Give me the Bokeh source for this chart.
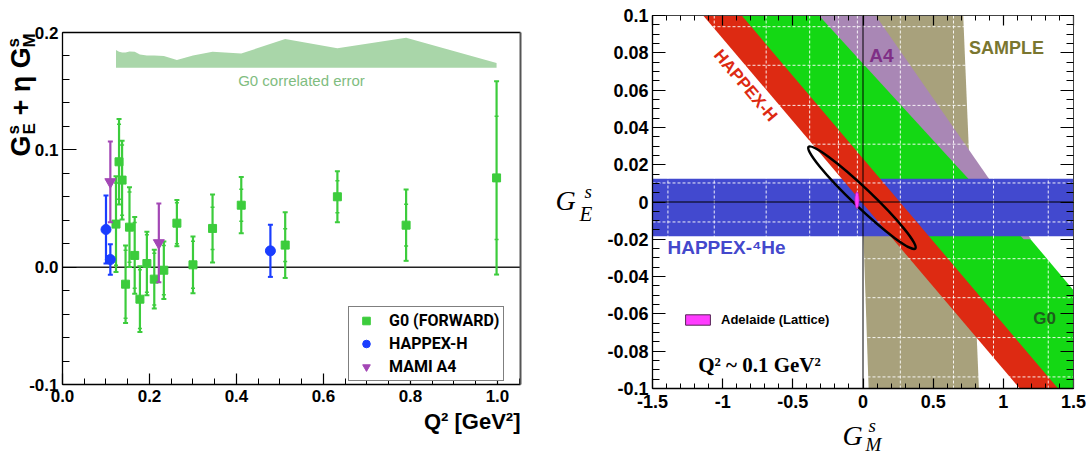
import numpy as np
from bokeh.plotting import figure
from bokeh.layouts import row
from bokeh.models import (Range1d, Label, Legend, LegendItem, LinearAxis,
                          FixedTicker, CustomJSTickFormatter)
from bokeh.embed import file_html
from bokeh.resources import INLINE

# ---------------- Left panel data: G_E^s + eta G_M^s vs Q^2 ----------------
g0_q2 = [0.123, 0.130, 0.137, 0.145, 0.154, 0.166, 0.178, 0.194, 0.211, 0.233,
         0.263, 0.300, 0.345, 0.411, 0.512, 0.632, 0.790, 0.998]
g0_val = [0.0367, 0.0898, 0.0742, -0.0145, 0.0341, 0.0100, -0.0273, 0.0031, -0.0102, -0.0026,
          0.0375, 0.0020, 0.0330, 0.0528, 0.0188, 0.0600, 0.0358, 0.0761]
g0_tot_err = [0.0408, 0.0364, 0.0335, 0.0330, 0.0340, 0.0327, 0.0280, 0.0270, 0.0250, 0.0245,
              0.0197, 0.0242, 0.0290, 0.0240, 0.0280, 0.0217, 0.0304, 0.0824]
g0_stat_err = [0.0350, 0.0320, 0.0300, 0.0290, 0.0300, 0.0280, 0.0250, 0.0245, 0.0220, 0.0210,
               0.0175, 0.0200, 0.0180, 0.0137, 0.0140, 0.0137, 0.0178, 0.0526]
g0_corr_base = 0.170
g0_corr_err = [0.0150, 0.0135, 0.0130, 0.0130, 0.0138, 0.0135, 0.0112, 0.0105, 0.0105, 0.0100,
               0.0065, 0.0105, 0.0135, 0.0120, 0.0245, 0.0165, 0.0255, 0.0040]

happex_q2 = [0.100, 0.110, 0.478]
happex_val = [0.0321, 0.0065, 0.0139]
happex_err = [0.0290, 0.0130, 0.0222]

a4_q2 = [0.110, 0.2215]
a4_val = [0.0727, 0.0207]
a4_err = [0.0345, 0.0335]

left_xticks = [0.0, 0.2, 0.4, 0.6, 0.8, 1.0]
left_yticks = [-0.1, 0.0, 0.1, 0.2]

# ---------------- Right panel data: G_E^s vs G_M^s at Q^2 ~ 0.1 ----------------
sample_gm = [-0.050, 0.714, 0.826, 0.040]
sample_ge = [0.100, 0.100, -0.100, -0.100]
a4band_gm = [-0.314, 0.090, 1.197, 1.145]
a4band_ge = [0.100, 0.100, -0.020, -0.020]
g0band_gm = [-1.000, -0.149, 1.500, 1.500, 1.250]
g0band_ge = [0.100, 0.100, -0.0473, -0.100, -0.100]
hhband_gm = [-1.139, -0.864, 1.390, 1.117]
hhband_ge = [0.100, 0.100, -0.100, -0.100]
he4_ge_low = -0.0184
he4_ge_high = 0.0125
fit_gm = [-0.0075]
fit_ge = [0.0023]
fit_w = 1.05
fit_h = 0.0100
fit_angle = -0.761
lattice_gm = [-0.043]
lattice_ge = [0.001]
lattice_w = 0.030
lattice_h = 0.0090

right_xticks = [-1.5, -1.0, -0.5, 0.0, 0.5, 1.0, 1.5]
right_yticks = [-0.1, -0.08, -0.06, -0.04, -0.02, 0.0, 0.02, 0.04, 0.06, 0.08, 0.1]
grid_gm = [-1.39, -1.06, -0.69, -0.38, -0.175, -0.04, 0.266, 0.645, 0.93, 1.32]
grid_ge = [-0.0938, -0.0727, -0.0513, -0.0304, -0.0107, 0.0102, 0.031, 0.0518, 0.0733, 0.094]

SANS = "'Liberation Sans', Arial, sans-serif"
ROBOTO = "Roboto, 'Liberation Sans', sans-serif"
SERIF = "'Liberation Serif', 'Times New Roman', serif"

# ---------------- geometry (canvas pixels of the drawn boxes) ----------------
W, H = 1086, 454
P1W = 550
P2W = W - P1W
LX0, LX1, LY0, LY1 = 0.0, 1.053, -0.1, 0.2
LB_L, LB_R, LB_T, LB_B = 62, 520, 32, 384
RX0, RX1, RY0, RY1 = -1.5, 1.5, -0.1, 0.1
RB_L, RB_R, RB_T, RB_B = 652, 1073, 15, 388

lsx = (LX1 - LX0) / (LB_R - LB_L)
lsy = (LY1 - LY0) / (LB_B - LB_T)
rsx = (RX1 - RX0) / (RB_R - RB_L)
rsy = (RY1 - RY0) / (RB_B - RB_T)


def lpos(px, py):
    return (LX0 + (px - LB_L) * lsx, LY1 - (py - LB_T) * lsy)


def rpos(px, py):
    return (RX0 + (px - RB_L) * rsx, RY1 - (py - RB_T) * rsy)


def style_axis(ax, ticks, minor, fmt, tick_in, minor_in, size, standoff,
               loc, bounds, font=SANS, line_color="black", line_width=1.3):
    ax.fixed_location = loc
    ax.bounds = bounds
    ax.ticker = FixedTicker(ticks=ticks, minor_ticks=minor)
    ax.formatter = CustomJSTickFormatter(code=fmt)
    ax.major_tick_in = tick_in
    ax.major_tick_out = 0
    ax.minor_tick_in = minor_in
    ax.minor_tick_out = 0
    ax.axis_line_color = line_color
    ax.axis_line_width = line_width
    ax.major_tick_line_color = "black"
    ax.major_tick_line_width = 1.2
    ax.minor_tick_line_color = "black"
    ax.minor_tick_line_width = 1
    ax.major_label_text_font = font
    ax.major_label_text_font_size = size
    ax.major_label_text_font_style = "bold"
    ax.major_label_text_color = "black"
    ax.major_label_standoff = standoff


def add_label(p, xy, text, size, color="black", font=SANS, style="bold",
              align="left", baseline="middle", angle=0.0):
    p.add_layout(Label(x=xy[0], y=xy[1], text=text, text_font=font, text_font_size=size,
                       text_font_style=style, text_color=color, text_align=align,
                       text_baseline=baseline, angle=angle))


# =============================== LEFT PANEL ===============================
p1 = figure(width=P1W, height=H,
            x_range=Range1d(LX0 - LB_L * lsx, LX1 + (P1W - LB_R) * lsx),
            y_range=Range1d(LY0 - (H - LB_B) * lsy, LY1 + LB_T * lsy),
            output_backend="svg", toolbar_location=None, title=None, min_border=0)
p1.xgrid.visible = False
p1.ygrid.visible = False
p1.outline_line_color = None
p1.border_fill_color = "white"
p1.background_fill_color = "white"

style_axis(p1.xaxis[0], left_xticks, [round(v, 3) for v in np.arange(0, 1.0501, 0.05)],
           "return tick.toFixed(1);", 11, 6, "17px", 5, LY0, (LX0, LX1))
style_axis(p1.yaxis[0], left_yticks, [round(v, 3) for v in np.arange(-0.1, 0.2001, 0.02)],
           "return tick.toFixed(1);", 14, 7, "17px", 4, LX0, (LY0, LY1))
l_right = LinearAxis()
style_axis(l_right, [], [], "return '';", 0, 0, "1px", 0, LX1, (LY0, LY1),
           line_color="#555555", line_width=2)
p1.add_layout(l_right, "right")
l_top = LinearAxis()
style_axis(l_top, [], [], "return '';", 0, 0, "1px", 0, LY1, (LX0, LX1))
p1.add_layout(l_top, "above")

# correlated error band
p1.varea(x=g0_q2, y1=[g0_corr_base] * len(g0_q2),
         y2=[g0_corr_base + e for e in g0_corr_err], fill_color="#a9d6a9")
add_label(p1, lpos(301, 80), "G0 correlated error", "15px", color="#7fbd7f",
          style="normal", align="center")

# zero line
p1.segment(x0=[LX0], y0=[0.0], x1=[LX1], y1=[0.0], line_color="#222222", line_width=1.5)

g0v = np.array(g0_val)
g0t = np.array(g0_tot_err)
g0s = np.array(g0_stat_err)
GREEN = "#3ccc3c"
p1.segment(x0=g0_q2, y0=g0v - g0t, x1=g0_q2, y1=g0v + g0t, line_color=GREEN, line_width=2.2)
p1.scatter(x=g0_q2 * 2, y=list(g0v - g0t) + list(g0v + g0t), marker="dash", size=5,
           line_color=GREEN, line_width=2)
p1.scatter(x=g0_q2 * 2, y=list(g0v - g0s) + list(g0v + g0s), marker="dash", size=4,
           line_color=GREEN, line_width=1.5)
g0_r = p1.scatter(x=g0_q2, y=g0_val, marker="square", size=8, fill_color=GREEN,
                  line_color=GREEN)

BLUE = "#1a3dff"
hv = np.array(happex_val)
he = np.array(happex_err)
p1.segment(x0=happex_q2, y0=hv - he, x1=happex_q2, y1=hv + he, line_color=BLUE, line_width=2.2)
p1.scatter(x=happex_q2 * 2, y=list(hv - he) + list(hv + he), marker="dash", size=5,
           line_color=BLUE, line_width=2)
hh_r = p1.scatter(x=happex_q2, y=happex_val, marker="circle", size=10, fill_color=BLUE,
                  line_color=BLUE)

MAG = "#a347b5"
av = np.array(a4_val)
ae = np.array(a4_err)
p1.segment(x0=a4_q2, y0=av - ae, x1=a4_q2, y1=av + ae, line_color=MAG, line_width=2.2)
p1.scatter(x=a4_q2 * 2, y=list(av - ae) + list(av + ae), marker="dash", size=5,
           line_color=MAG, line_width=2)
a4_r = p1.scatter(x=a4_q2, y=a4_val, marker="inverted_triangle", size=11, fill_color=MAG,
                  line_color=MAG)

leg1 = Legend(items=[LegendItem(label="G0 (FORWARD)", renderers=[g0_r]),
                     LegendItem(label="HAPPEX-H", renderers=[hh_r]),
                     LegendItem(label="MAMI A4", renderers=[a4_r])],
              location=(348, H - 381), orientation="vertical",
              border_line_color="black", border_line_width=1.5,
              background_fill_color="white", background_fill_alpha=1.0,
              label_text_font=ROBOTO, label_text_font_style="bold",
              label_text_font_size="16px", label_text_color="black",
              glyph_width=26, glyph_height=19, label_height=19, label_standoff=10,
              spacing=4, padding=4, margin=0)
p1.add_layout(leg1)

# y axis label: G_E^s + eta G_M^s (rotated, reads upward)
ROT = np.pi / 2
add_label(p1, lpos(20, 156), "G", "27px", angle=ROT)
add_label(p1, lpos(29, 134), "E", "17px", angle=ROT)
add_label(p1, lpos(13, 134), "s", "17px", angle=ROT)
add_label(p1, lpos(20, 115), "+ \u03b7 G", "27px", angle=ROT)
add_label(p1, lpos(29, 47), "M", "17px", angle=ROT)
add_label(p1, lpos(13, 47), "s", "17px", angle=ROT)
# x axis label
add_label(p1, lpos(520, 421), "Q\u00b2 [GeV\u00b2]", "22px", align="right")

# =============================== RIGHT PANEL ===============================
p2 = figure(width=P2W, height=H,
            x_range=Range1d(RX0 - (RB_L - P1W) * rsx, RX1 + (W - RB_R) * rsx),
            y_range=Range1d(RY0 - (H - RB_B) * rsy, RY1 + RB_T * rsy),
            output_backend="svg", toolbar_location=None, title=None, min_border=0)
p2.xgrid.visible = False
p2.ygrid.visible = False
p2.outline_line_color = None
p2.border_fill_color = "white"
p2.background_fill_color = "white"

rx_minor = [round(v, 3) for v in np.arange(-1.5, 1.5001, 0.1)]
ry_minor = [round(v, 4) for v in np.arange(-0.1, 0.1001, 0.005)]
fmt = "return (Math.round(tick*1000)/1000).toString();"
style_axis(p2.xaxis[0], right_xticks, rx_minor, fmt, 10, 5, "18px", 6, RY0, (RX0, RX1))
style_axis(p2.yaxis[0], right_yticks, ry_minor, fmt, 13, 7, "18px", 4, RX0, (RY0, RY1))
r_right = LinearAxis()
style_axis(r_right, right_yticks, ry_minor, "return '';", 13, 7, "1px", 0, RX1, (RY0, RY1),
           line_color="#444444", line_width=1)
p2.add_layout(r_right, "right")
r_top = LinearAxis()
style_axis(r_top, right_xticks, rx_minor, "return '';", 10, 5, "1px", 0, RY1, (RX0, RX1),
           line_color="#444444", line_width=1)
p2.add_layout(r_top, "above")

TAN = "#a8a17c"
PURP = "#a987b5"
BGREEN = "#14d814"
RED = "#dd2a12"
BBLUE = "#4249cf"
p2.patch(sample_gm, sample_ge, fill_color=TAN, line_color=None)
p2.patch(g0band_gm, g0band_ge, fill_color=BGREEN, line_color=None)
p2.patch(a4band_gm, a4band_ge, fill_color=PURP, line_color=None)
p2.quad(left=[RX0], right=[RX1], bottom=[he4_ge_low], top=[he4_ge_high],
        fill_color=BBLUE, line_color=None)
p2.patch(hhband_gm, hhband_ge, fill_color=RED, line_color=None)

# dashed white grid (visible only on the coloured bands)
p2.segment(x0=grid_gm, y0=[RY0] * len(grid_gm), x1=grid_gm, y1=[RY1] * len(grid_gm),
           line_color="white", line_dash="3 2", line_width=1, line_alpha=0.9)
p2.segment(x0=[RX0] * len(grid_ge), y0=grid_ge, x1=[RX1] * len(grid_ge), y1=grid_ge,
           line_color="white", line_dash="3 2", line_width=1, line_alpha=0.9)
# zero lines
p2.segment(x0=[RX0, 0.0], y0=[0.0, RY0], x1=[RX1, 0.0], y1=[0.0, RY1],
           line_color="black", line_width=1)

p2.ellipse(x=fit_gm, y=fit_ge, width=fit_w, height=fit_h, angle=fit_angle,
           fill_color=None, line_color="black", line_width=2.5)
p2.ellipse(x=lattice_gm, y=lattice_ge, width=lattice_w, height=lattice_h,
           fill_color="#ff3cff", line_color="#aa22aa", line_width=0.8)
lattice_key = p2.quad(left=lattice_gm, right=lattice_gm, bottom=lattice_ge, top=lattice_ge,
                      fill_color="#ff3cff", line_color="#552255", line_width=1)

leg2 = Legend(items=[LegendItem(label="Adelaide (Lattice)", renderers=[lattice_key])],
              location=(682 - P1W, H - 327), orientation="vertical",
              border_line_color=None, background_fill_alpha=0.0,
              label_text_font=SANS, label_text_font_style="bold",
              label_text_font_size="13px", label_text_color="black",
              glyph_width=31, glyph_height=13, label_height=13, label_standoff=8,
              spacing=0, padding=0, margin=0)
p2.add_layout(leg2)

add_label(p2, rpos(745, 85), "HAPPEX-H", "17px", color=RED, align="center", angle=-0.868)
add_label(p2, rpos(881, 55), "A4", "19px", color="#7f2f86", align="center")
add_label(p2, rpos(1006, 47), "SAMPLE", "18px", color="#7a7630", align="center")
add_label(p2, rpos(1044, 318), "G0", "17px", color="#1d5e1d", align="center")
add_label(p2, rpos(667, 247), "HAPPEX-\u2074He", "19px", color="#4448cc")
add_label(p2, rpos(759, 364), "Q\u00b2 ~ 0.1 GeV\u00b2", "21px", font=SERIF, align="center")

# axis labels (italic serif with sub/superscripts)
add_label(p2, rpos(555, 200), "G", "28px", font=SERIF, style="italic")
add_label(p2, rpos(584, 191), "s", "19px", font=SERIF, style="italic")
add_label(p2, rpos(579, 213), "E", "21px", font=SERIF, style="italic")
add_label(p2, rpos(842, 435), "G", "28px", font=SERIF, style="italic")
add_label(p2, rpos(868, 425), "s", "19px", font=SERIF, style="italic")
add_label(p2, rpos(865, 444), "M", "19px", font=SERIF, style="italic")

layout = row(p1, p2)
open("out.html", "w").write(file_html(layout, INLINE, title="strange form factors"))
